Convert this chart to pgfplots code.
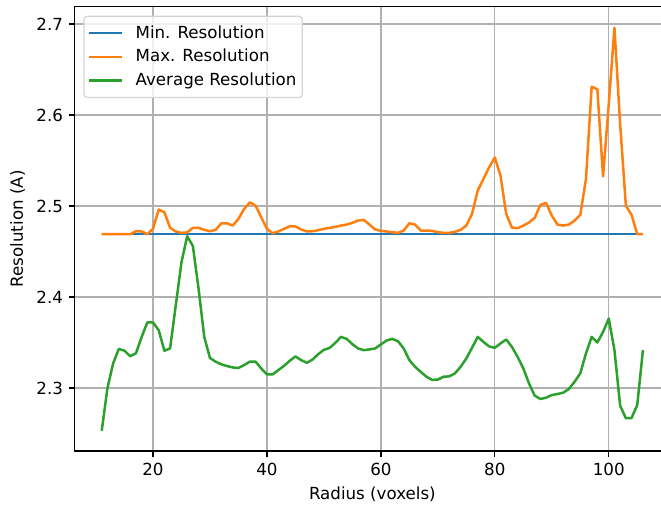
\documentclass[border=0pt]{standalone}
\usepackage{fontspec}
\setmainfont{DejaVu Sans}
\usepackage{pgfplots}
\pgfplotsset{compat=1.18}
\usepackage{pgfplotstable}
\definecolor{tabblue}{HTML}{1F77B4}
\definecolor{taborange}{HTML}{FF7F0E}
\definecolor{tabgreen}{HTML}{2CA02C}
\definecolor{gridgray}{HTML}{B0B0B0}
\definecolor{legframe}{HTML}{D6D6D6}

\pgfplotstableread{
x y
11 2.469
106 2.469
}\minres

\pgfplotstableread{
x y
11 2.469
12 2.469
13 2.469
14 2.469
15 2.469
16 2.469
17 2.4723
18 2.472
19 2.469
20 2.4749
21 2.496
22 2.4931
23 2.476
24 2.472
25 2.4705
26 2.471
27 2.476
28 2.476
29 2.4738
30 2.4723
31 2.4738
32 2.481
33 2.481
34 2.4785
35 2.4859
36 2.4968
37 2.504
38 2.5004
39 2.4876
40 2.4749
41 2.4701
42 2.472
43 2.4749
44 2.4778
45 2.4775
46 2.4742
47 2.472
48 2.4723
49 2.4734
50 2.4749
51 2.476
52 2.477
53 2.4785
54 2.4796
55 2.4815
56 2.484
57 2.4847
58 2.4796
59 2.4742
60 2.4727
61 2.472
62 2.4712
63 2.4705
64 2.473
65 2.481
66 2.4796
67 2.473
68 2.473
69 2.4727
70 2.4712
71 2.4705
72 2.4705
73 2.4716
74 2.4738
75 2.4785
76 2.4913
77 2.5169
78 2.5297
79 2.5424
80 2.5533
81 2.5333
82 2.4913
83 2.4763
84 2.4756
85 2.4785
86 2.4818
87 2.487
88 2.5012
89 2.5034
90 2.4895
91 2.4796
92 2.4785
93 2.4796
94 2.484
95 2.4902
96 2.5297
97 2.6311
98 2.6282
99 2.5326
100 2.612
101 2.6958
102 2.59
103 2.5004
104 2.4902
105 2.469
106 2.469
}\maxres

\pgfplotstableread{
x y
11 2.253
12 2.2997
13 2.327
14 2.343
15 2.341
16 2.335
17 2.338
18 2.356
19 2.372
20 2.372
21 2.3635
22 2.341
23 2.3435
24 2.391
25 2.4383
26 2.4668
27 2.456
28 2.4092
29 2.356
30 2.333
31 2.3289
32 2.326
33 2.3241
34 2.3226
35 2.322
36 2.3252
37 2.329
38 2.329
39 2.3215
40 2.315
41 2.315
42 2.3197
43 2.3244
44 2.3299
45 2.3347
46 2.3307
47 2.3277
48 2.3313
49 2.3372
50 2.342
51 2.344
52 2.3496
53 2.3562
54 2.354
55 2.3482
56 2.3435
57 2.3416
58 2.3424
59 2.3435
60 2.3479
61 2.3522
62 2.354
63 2.3515
64 2.3435
65 2.3307
66 2.3233
67 2.3178
68 2.3124
69 2.309
70 2.3093
71 2.3124
72 2.3128
73 2.3161
74 2.3233
75 2.3325
76 2.3442
77 2.3562
78 2.3507
79 2.3457
80 2.3442
81 2.349
82 2.3533
83 2.3452
84 2.3343
85 2.3216
86 2.3051
87 2.2916
88 2.288
89 2.2894
90 2.2923
91 2.2934
92 2.2949
93 2.2989
94 2.3069
95 2.3161
96 2.338
97 2.3562
98 2.35
99 2.3617
100 2.3763
101 2.3416
102 2.2806
103 2.2668
104 2.267
105 2.2814
106 2.3416
}\avgres

\begin{document}
\begin{tikzpicture}
\begin{axis}[
  at={(0,0)}, anchor=south west,
  scale only axis,
  width=357.2pt, height=266.6pt,
  xmin=6.25, xmax=110.75,
  ymin=2.2308, ymax=2.719,
  xtick={20,40,60,80,100},
  ytick={2.3,2.4,2.5,2.6,2.7},
  yticklabel style={/pgf/number format/fixed, /pgf/number format/precision=1, /pgf/number format/fixed zerofill},
  /pgf/number format/assume math mode=true,
  tick pos=left,
  tick align=outside,
  major tick length=3.5pt,
  tick style={black, line width=0.8pt},
  axis line style={black, line width=0.8pt},
  grid=major,
  major grid style={gridgray, line width=0.8pt},
  ticklabel style={font=\fontsize{10}{12}\selectfont},
  label style={font=\fontsize{10}{12}\selectfont},
  xlabel={Radius (voxels)},
  ylabel={Resolution (A)},
  legend image code/.code={\draw[#1, line width=1.5pt] (0pt,0pt) -- (20pt,0pt); \path (26pt,0pt);},
  legend cell align=left,
  legend style={
    at={(0,1)}, xshift=5.2pt, yshift=-5.4pt, anchor=north west,
    draw=legframe, line width=0.8pt, rounded corners=2pt,
    fill=white, fill opacity=0.8, text opacity=1,
    font=\fontsize{10}{12}\selectfont,
    inner xsep=2pt, inner ysep=4pt,
    row sep=2.2pt,
    nodes={inner sep=1.5pt},
  },
  every axis plot/.append style={line width=1.5pt, line join=round},
]
\addplot[tabblue, no markers] table {\minres};
\addlegendentry{Min. Resolution}
\addplot[taborange, no markers] table {\maxres};
\addlegendentry{Max. Resolution}
\addplot[tabgreen, no markers] table {\avgres};
\addlegendentry{Average Resolution}
\end{axis}
\pgfresetboundingbox
\useasboundingbox (-44.8pt,-33pt) rectangle (351.8pt,270.6pt);
\end{tikzpicture}
\end{document}
